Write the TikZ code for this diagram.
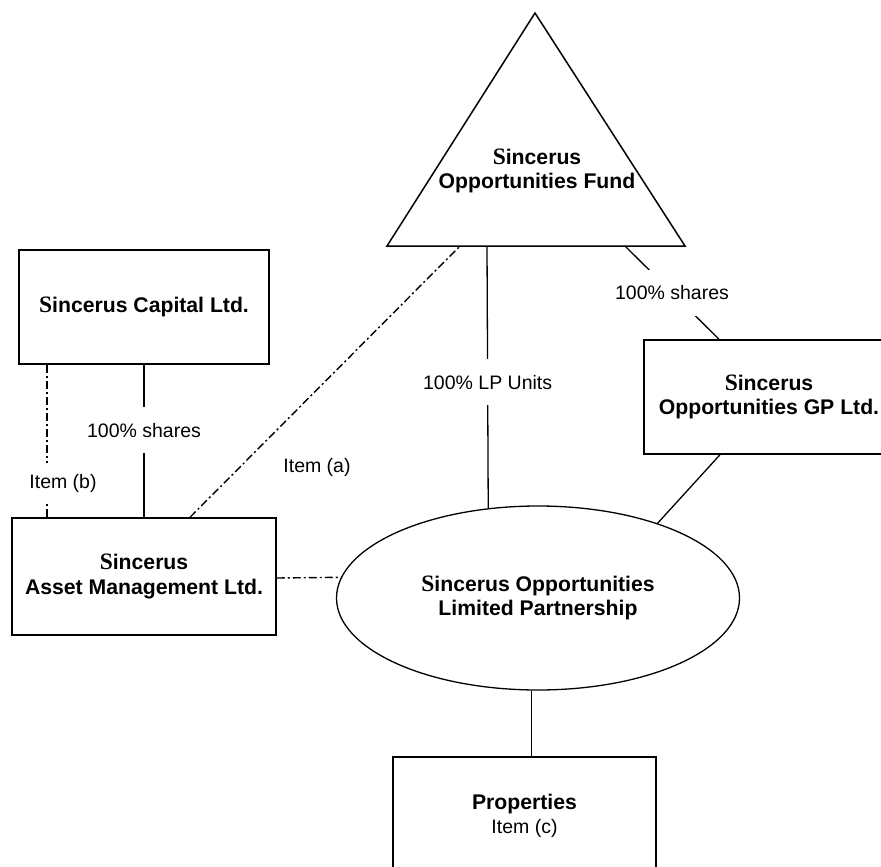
\documentclass[tikz,border=0pt]{standalone}
\usepackage{fontspec}
\setmainfont{Liberation Sans}
\newfontfamily\serifS{Liberation Serif}
\usetikzlibrary{shapes.geometric}
\newcommand{\capS}{{\serifS\bfseries\fontsize{23.5}{24}\selectfont S}}
\newcommand{\namesize}{\bfseries\fontsize{21.2}{24.5}\selectfont}
\newcommand{\lblsize}{\fontsize{19.5}{22}\selectfont}
\begin{document}
\begin{tikzpicture}[x=1pt,y=-1pt,
  box/.style={draw, line width=1.5pt, align=center, font=\namesize, inner sep=0pt},
  conn/.style={line width=1.3pt},
  dd/.style={line width=1.4pt, dash pattern=on 8pt off 3pt on 2pt off 3pt},
  lbl/.style={fill=white, font=\lblsize, inner xsep=3pt, inner ysep=0pt, minimum height=46pt},
  plainlbl/.style={font=\lblsize, inner sep=0pt}]
\useasboundingbox (0,0) rectangle (881,867);
\clip (0,0) rectangle (881,867);
\fill[white] (0,0) rectangle (881,867);

% Fund triangle
\draw[line width=1.5pt, line join=miter] (535,13) -- (387,246) -- (685,246) -- cycle;
\node[align=center, font=\namesize, inner sep=0pt] (fund) at (537,171) {\capS incerus\\Opportunities Fund};
\coordinate (fundL) at (460,246);
\coordinate (fundM) at (487,246);
\coordinate (fundR) at (625,246);

% boxes
\node[box, minimum width=250pt, minimum height=114pt] (cap) at (144,307) {\capS incerus Capital Ltd.};
\node[box, minimum width=264pt, minimum height=117pt] (am) at (144,576.5) {\capS incerus\\Asset Management Ltd.};
\node[box, minimum width=250pt, minimum height=114pt] (gp) at (769,397) {\capS incerus\\Opportunities GP Ltd.};
\node[box, minimum width=263pt, minimum height=118pt] (props) at (524.5,816) {Properties\\[-1pt]{\mdseries\lblsize Item (c)}};
\node[draw, ellipse, line width=1.3pt, minimum width=403pt, minimum height=184pt, align=center, font=\namesize, inner sep=0pt] (lp) at (538,598) {\capS incerus Opportunities\\Limited Partnership};

% connectors
\draw[conn] (cap.south) -- node[lbl, pos=0.43] {100\% shares} (am.north);
\draw[dd] ([xshift=-97pt]cap.south) -- ([xshift=-97pt]am.north);
\node[lbl, minimum height=40pt] (itemb) at (63,483) {Item (b)};
\draw[dd] ([xshift=46pt]am.north) -- (fundL);
\node[plainlbl] (itema) at (317,467) {Item (a)};
\draw[conn] (fundM) -- node[lbl, pos=0.52] {100\% LP Units} (lp.119.8);
\draw[conn] (fundR) -- node[lbl, pos=0.5] {100\% shares} ([xshift=-50pt]gp.north);
\draw[conn] ([xshift=-49pt]gp.south) -- (lp.32.7);
\draw[dd] ([yshift=-1.5pt]am.east) -- (lp.174.2);
\draw[conn] (lp.266.2) -- (lp.266.2 |- props.north);
\end{tikzpicture}
\end{document}
